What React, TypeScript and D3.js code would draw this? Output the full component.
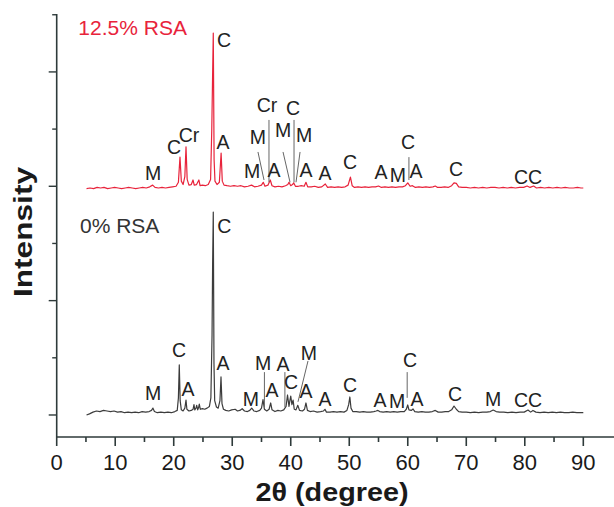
import React from "react";
import * as d3 from "d3";

// ---- data ----
const X_TICKS = [0, 10, 20, 30, 40, 50, 60, 70, 80, 90];
const X_MINOR = [5, 15, 25, 35, 45, 55, 65, 75, 85];
const Y_MAJOR = [0, 2, 4, 6];
const Y_MINOR = [1, 3, 5, 7];

const SERIES_NAMES = ["0% RSA", "12.5% RSA"];
const SERIES_OFFSETS = [0, 3.97];

// 0% RSA trace: [2θ, intensity]
const TRACE_0: [number, number][] = [
  [5.1, 0.0], [5.6, 0.02], [6.2, 0.05], [6.8, 0.07], [7.4, 0.06], [8.0, 0.08], [8.6, 0.07], [9.2, 0.06], [9.8, 0.07], [10.4, 0.05],
  [11.0, 0.06], [11.6, 0.04], [12.2, 0.05], [12.8, 0.04], [13.4, 0.05], [14.0, 0.04], [14.6, 0.06], [15.2, 0.05], [15.8, 0.06], [16.2, 0.08],
  [16.45, 0.12], [16.7, 0.06], [17.2, 0.04], [17.8, 0.05], [18.4, 0.04], [19.0, 0.05], [19.6, 0.04], [20.2, 0.06], [20.6, 0.08], [20.8, 0.3],
  [20.95, 0.875], [21.1, 0.25], [21.3, 0.09], [21.6, 0.07], [21.9, 0.12], [22.1, 0.26], [22.25, 0.1], [22.6, 0.07], [23.0, 0.08], [23.3, 0.1],
  [23.46, 0.18], [23.6, 0.09], [23.8, 0.12], [23.93, 0.17], [24.1, 0.09], [24.25, 0.13], [24.37, 0.19], [24.55, 0.1], [24.9, 0.11], [25.3, 0.1],
  [25.7, 0.12], [26.1, 0.15], [26.35, 0.3], [26.55, 1.4], [26.65, 2.66], [26.76, 3.55], [26.88, 0.9], [27.0, 0.25], [27.3, 0.14], [27.6, 0.12],
  [27.9, 0.25], [28.08, 0.665], [28.25, 0.2], [28.5, 0.1], [28.9, 0.08], [29.4, 0.07], [29.9, 0.09], [30.5, 0.1], [30.9, 0.07], [31.3, 0.08],
  [31.7, 0.11], [32.1, 0.07], [32.6, 0.06], [33.0, 0.08], [33.33, 0.12], [33.7, 0.07], [34.2, 0.06], [34.7, 0.08], [35.0, 0.12], [35.26, 0.27],
  [35.5, 0.1], [35.9, 0.07], [36.3, 0.1], [36.57, 0.21], [36.8, 0.09], [37.3, 0.06], [37.8, 0.08], [38.3, 0.07], [38.8, 0.09], [39.2, 0.15],
  [39.45, 0.35], [39.7, 0.15], [39.85, 0.25], [40.0, 0.33], [40.2, 0.18], [40.4, 0.26], [40.6, 0.1], [40.9, 0.09], [41.2, 0.17], [41.5, 0.08],
  [42.0, 0.07], [42.35, 0.1], [42.6, 0.21], [42.85, 0.08], [43.3, 0.06], [43.9, 0.07], [44.5, 0.05], [45.1, 0.06], [45.6, 0.07], [45.85, 0.1],
  [46.1, 0.05], [46.7, 0.05], [47.3, 0.06], [47.9, 0.05], [48.5, 0.06], [49.1, 0.05], [49.6, 0.08], [49.9, 0.18], [50.1, 0.315], [50.3, 0.12],
  [50.6, 0.06], [51.2, 0.06], [51.8, 0.05], [52.4, 0.06], [53.0, 0.05], [53.6, 0.05], [54.2, 0.06], [54.6, 0.07], [54.9, 0.08], [55.2, 0.06],
  [55.8, 0.05], [56.4, 0.06], [57.0, 0.05], [57.6, 0.06], [58.2, 0.05], [58.8, 0.06], [59.4, 0.06], [59.75, 0.1], [59.99, 0.175], [60.2, 0.09],
  [60.6, 0.08], [60.9, 0.105], [61.2, 0.06], [61.8, 0.05], [62.4, 0.06], [63.0, 0.05], [63.6, 0.05], [64.2, 0.06], [64.7, 0.08], [65.2, 0.05],
  [65.8, 0.05], [66.4, 0.06], [67.0, 0.06], [67.5, 0.09], [67.9, 0.157], [68.3, 0.1], [68.7, 0.06], [69.3, 0.05], [70.0, 0.05], [70.7, 0.04],
  [71.4, 0.05], [72.1, 0.04], [72.8, 0.05], [73.5, 0.05], [74.1, 0.06], [74.6, 0.087], [75.1, 0.06], [75.7, 0.05], [76.4, 0.05], [77.1, 0.04],
  [77.8, 0.05], [78.5, 0.04], [79.2, 0.05], [79.9, 0.05], [80.55, 0.087], [81.0, 0.05], [81.4, 0.08], [81.9, 0.05], [82.6, 0.04], [83.3, 0.05],
  [84.0, 0.04], [84.7, 0.05], [85.4, 0.04], [86.1, 0.05], [86.8, 0.04], [87.5, 0.04], [88.2, 0.05], [88.9, 0.04], [89.6, 0.04], [90.0, 0.04],
];

// 12.5% RSA trace: [2θ, intensity above its own baseline]
const TRACE_125: [number, number][] = [
  [5.1, -0.01], [5.7, 0.0], [6.3, -0.01], [6.9, 0.01], [7.5, 0.0], [8.1, 0.01], [8.7, -0.01], [9.3, 0.0], [9.9, 0.01], [10.5, 0.0],
  [11.1, -0.01], [11.7, 0.0], [12.3, 0.01], [12.9, 0.0], [13.5, -0.01], [14.1, 0.0], [14.7, 0.01], [15.3, 0.0], [15.9, 0.02], [16.4, 0.05],
  [16.8, 0.01], [17.4, 0.0], [18.0, 0.01], [18.6, 0.0], [19.2, 0.01], [19.8, 0.02], [20.4, 0.03], [20.8, 0.1], [21.07, 0.54], [21.3, 0.12],
  [21.6, 0.06], [21.9, 0.2], [22.1, 0.72], [22.3, 0.15], [22.6, 0.05], [23.0, 0.06], [23.3, 0.14], [23.5, 0.05], [23.9, 0.06], [24.3, 0.14],
  [24.5, 0.04], [24.9, 0.05], [25.4, 0.04], [25.9, 0.06], [26.3, 0.15], [26.5, 1.01], [26.62, 1.8], [26.76, 2.71], [26.9, 0.5], [27.05, 0.12],
  [27.4, 0.06], [27.8, 0.1], [28.1, 0.61], [28.3, 0.12], [28.6, 0.05], [29.1, 0.04], [29.7, 0.03], [30.3, 0.04], [30.9, 0.03], [31.5, 0.04],
  [32.1, 0.02], [32.7, 0.03], [33.3, 0.05], [33.8, 0.02], [34.4, 0.03], [35.0, 0.05], [35.3, 0.1], [35.6, 0.03], [36.1, 0.05], [36.5, 0.14],
  [36.8, 0.04], [37.3, 0.02], [37.9, 0.03], [38.5, 0.02], [39.1, 0.04], [39.5, 0.06], [39.7, 0.1], [40.0, 0.04], [40.3, 0.06], [40.5, 0.09],
  [40.8, 0.03], [41.3, 0.03], [41.8, 0.04], [42.3, 0.03], [42.6, 0.1], [42.9, 0.02], [43.5, 0.02], [44.1, 0.03], [44.7, 0.01], [45.3, 0.02],
  [45.9, 0.07], [46.3, 0.01], [46.9, 0.02], [47.5, 0.01], [48.1, 0.02], [48.7, 0.01], [49.3, 0.02], [49.8, 0.05], [50.2, 0.19], [50.5, 0.04],
  [50.9, 0.01], [51.5, 0.02], [52.1, 0.01], [52.7, 0.02], [53.3, 0.01], [53.9, 0.02], [54.5, 0.02], [55.0, 0.035], [55.5, 0.01], [56.1, 0.02],
  [56.7, 0.01], [57.3, 0.02], [57.9, 0.01], [58.5, 0.02], [59.1, 0.02], [59.6, 0.04], [60.0, 0.09], [60.4, 0.03], [60.8, 0.04], [61.3, 0.01],
  [61.9, 0.02], [62.5, 0.01], [63.1, 0.02], [63.7, 0.01], [64.3, 0.02], [64.7, 0.035], [65.1, 0.01], [65.7, 0.01], [66.3, 0.02], [66.9, 0.01],
  [67.5, 0.04], [67.9, 0.09], [68.3, 0.08], [68.7, 0.02], [69.3, 0.01], [70.0, 0.01], [70.7, 0.0], [71.4, 0.01], [72.1, 0.0], [72.8, 0.01],
  [73.5, 0.0], [74.2, 0.01], [74.9, 0.01], [75.6, 0.0], [76.3, 0.01], [77.0, 0.0], [77.7, 0.01], [78.4, 0.0], [79.1, 0.01], [79.8, 0.01],
  [80.4, 0.035], [80.9, 0.01], [81.5, 0.035], [82.0, 0.0], [82.7, 0.01], [83.4, 0.0], [84.1, 0.01], [84.8, 0.0], [85.5, 0.01], [86.2, 0.0],
  [86.9, 0.01], [87.6, 0.0], [88.3, 0.0], [89.0, 0.01], [89.6, 0.0], [90.0, 0.0],
];

// phase labels: [text, 2θ, intensity above series baseline]
const LABELS_0: [string, number, number][] = [
  ["C", 28.63, 3.31], ["M", 16.46, 0.385], ["C", 20.9, 1.14], ["A", 22.44, 0.455], ["A", 28.42, 0.91],
  ["M", 33.2, 0.28], ["M", 35.26, 0.91], ["A", 36.8, 0.44], ["A", 38.68, 0.89], ["C", 40.05, 0.58],
  ["M", 43.1, 1.08], ["A", 42.6, 0.42], ["A", 45.85, 0.28], ["C", 50.13, 0.525], ["A", 55.25, 0.26],
  ["M", 58.16, 0.245], ["C", 60.38, 0.96], ["A", 61.58, 0.28], ["C", 68.07, 0.37], ["M", 74.57, 0.28],
  ["CC", 80.55, 0.26],
];
const LABELS_125: [string, number, number][] = [
  ["C", 28.6, 2.59], ["C", 20.05, 0.72], ["Cr", 22.6, 0.93], ["A", 28.42, 0.8], ["M", 16.46, 0.26],
  ["M", 33.38, 0.3], ["M", 34.4, 0.89], ["Cr", 35.94, 1.45], ["A", 37.14, 0.31], ["M", 38.68, 1.01],
  ["C", 40.39, 1.4], ["M", 42.27, 0.93], ["A", 42.6, 0.31], ["A", 45.85, 0.26], ["C", 50.13, 0.45],
  ["A", 55.43, 0.28], ["M", 58.33, 0.23], ["C", 60.04, 0.8], ["A", 61.4, 0.3], ["C", 68.25, 0.33],
  ["CC", 80.55, 0.19],
];

// leader lines: [2θ1, v1, 2θ2, v2] above series baseline
const LEADERS_0: [number, number, number, number][] = [
  [35.5, 0.75, 35.5, 0.14], [39.0, 0.75, 39.0, 0.14], [42.95, 0.945, 41.24, 0.23], [59.9, 0.75, 59.9, 0.3],
];
const LEADERS_125: [number, number, number, number][] = [
  [34.4, 0.63, 35.43, 0.14], [36.28, 1.19, 36.28, 0.1], [38.68, 0.63, 39.88, 0.1],
  [40.56, 1.19, 40.56, 0.1], [41.59, 0.63, 40.9, 0.1], [60.2, 0.54, 60.2, 0.14],
];

const TRACES = [TRACE_0, TRACE_125];
const LABELS = [LABELS_0, LABELS_125];
const LEADERS = [LEADERS_0, LEADERS_125];
const NAME_POS: [number, number][] = [[3.98, 3.32], [3.7, 2.8]];

const W = 614;
const H = 507;
const COLORS = ["#3c3c3c", "#e8233b"];
const NAME_COLORS = ["#333333", "#e8233b"];
const AXIS = "#2e3a3a";
const FONT = "'Liberation Sans', Arial, Helvetica, sans-serif";

export default function App() {
  const x = d3.scaleLinear().domain([0, 90]).range([56.7, 583.3]);
  const y = d3.scaleLinear().domain([-0.385, 7.013]).range([437, 14]);
  const line = d3
    .line<[number, number]>()
    .x((d) => x(d[0]))
    .y((d) => y(d[1]));

  const x0 = x(0);
  const yBottom = y(-0.385);
  const yTop = y(7.013);

  return (
    <svg
      width={W}
      height={H}
      style={{ position: "absolute", left: 0, top: 0, background: "#fff" }}
      fontFamily={FONT}
    >
      {TRACES.map((tr, i) => (
        <path
          key={"tr" + i}
          d={line(tr.map((p) => [p[0], p[1] + SERIES_OFFSETS[i]] as [number, number])) || ""}
          fill="none"
          stroke={COLORS[i]}
          strokeWidth={1.2}
          strokeLinejoin="round"
        />
      ))}
      {LEADERS.map((ls, i) =>
        ls.map((l, j) => (
          <line
            key={"ld" + i + "-" + j}
            x1={x(l[0])}
            y1={y(l[1] + SERIES_OFFSETS[i])}
            x2={x(l[2])}
            y2={y(l[3] + SERIES_OFFSETS[i])}
            stroke="#666"
            strokeWidth={1}
          />
        ))
      )}
      {LABELS.map((ls, i) =>
        ls.map((l, j) => (
          <text
            key={"lb" + i + "-" + j}
            x={x(l[1])}
            y={y(l[2] + SERIES_OFFSETS[i])}
            dy="0.36em"
            textAnchor="middle"
            fontSize={19.5}
            fill="#222"
          >
            {l[0]}
          </text>
        ))
      )}
      {SERIES_NAMES.map((n, i) => (
        <text
          key={"nm" + i}
          x={x(NAME_POS[i][0])}
          y={y(NAME_POS[i][1] + SERIES_OFFSETS[i])}
          dy="0.36em"
          fontSize={21}
          fill={NAME_COLORS[i]}
        >
          {n}
        </text>
      ))}

      {/* axes */}
      <line x1={x0} y1={yTop} x2={x0} y2={yBottom} stroke={AXIS} strokeWidth={1.6} />
      <line x1={x0} y1={yBottom} x2={W} y2={yBottom} stroke={AXIS} strokeWidth={1.6} />
      {Y_MAJOR.map((t) => (
        <line key={"ym" + t} x1={x0 - 8} x2={x0} y1={y(t)} y2={y(t)} stroke={AXIS} strokeWidth={1.4} />
      ))}
      {Y_MINOR.map((t) => (
        <line key={"yn" + t} x1={x0 - 4.5} x2={x0} y1={y(t)} y2={y(t)} stroke={AXIS} strokeWidth={1.4} />
      ))}
      {X_TICKS.map((t) => (
        <g key={"xt" + t}>
          <line x1={x(t)} x2={x(t)} y1={yBottom} y2={yBottom + 9} stroke={AXIS} strokeWidth={1.6} />
          <text x={x(t)} y={470} textAnchor="middle" fontSize={22} fill="#1a1a1a">
            {t}
          </text>
        </g>
      ))}
      {X_MINOR.map((t) => (
        <line key={"xn" + t} x1={x(t)} x2={x(t)} y1={yBottom} y2={yBottom + 5} stroke={AXIS} strokeWidth={1.6} />
      ))}
      <text
        x={332}
        y={501}
        textAnchor="middle"
        fontSize={26}
        fontWeight="bold"
        fill="#1a1a1a"
        textLength={153}
        lengthAdjust="spacingAndGlyphs"
      >
        2θ (degree)
      </text>
      <text
        transform={`translate(32,${232}) rotate(-90)`}
        textAnchor="middle"
        fontSize={25}
        fontWeight="bold"
        fill="#1a1a1a"
        textLength={130}
        lengthAdjust="spacingAndGlyphs"
      >
        Intensity
      </text>
    </svg>
  );
}
